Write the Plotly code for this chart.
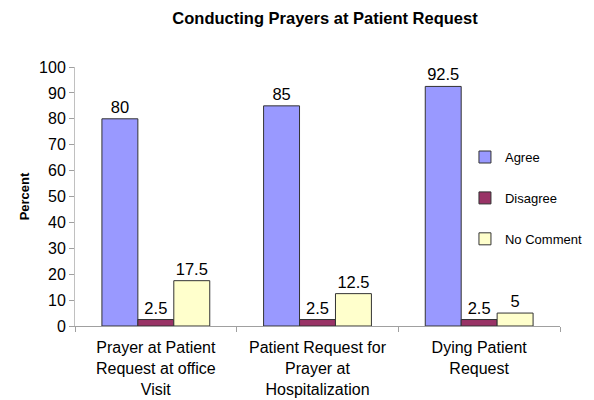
import plotly.graph_objects as go

categories = ["Prayer at Patient<br>Request at office<br>Visit",
              "Patient Request for<br>Prayer at<br>Hospitalization",
              "Dying Patient<br>Request"]
series_names = ["Agree", "Disagree", "No Comment"]
agree = [80, 85, 92.5]
disagree = [2.5, 2.5, 2.5]
no_comment = [17.5, 12.5, 5]
colors = ["#9999FF", "#993366", "#FFFFCC"]
y_ticks = list(range(0, 101, 10))

FONT = "Arial, Liberation Sans, sans-serif"

fig = go.Figure()
for i, (name, vals) in enumerate(zip(series_names, [agree, disagree, no_comment])):
    fig.add_trace(go.Bar(
        x=categories, y=vals, name=name,
        marker=dict(color=colors[i], line=dict(color="#333333", width=1)),
        text=[f"{v:g}" for v in vals], textposition="outside",
        textfont=dict(family=FONT, size=16.5, color="black"),
        cliponaxis=False, legendgroup=name,
    ))

fig.update_layout(
    width=586, height=392,
    paper_bgcolor="white", plot_bgcolor="white",
    margin=dict(l=67, r=34, t=59, b=74, autoexpand=False),
    barmode="group", bargap=0.333, bargroupgap=0,
    font=dict(family=FONT, color="black"),
    title=dict(text="<b>Conducting Prayers at Patient Request</b>",
               x=0.541, xanchor="center", y=0.9745, yanchor="middle",
               font=dict(family=FONT, size=16.5, color="black")),
    showlegend=True,
    legend=dict(xref="container", yref="container", x=0.988, y=0.658,
                xanchor="right", yanchor="top",
                bgcolor="rgba(0,0,0,0)", borderwidth=0,
                font=dict(family=FONT, size=13, color="black"),
                tracegroupgap=21, traceorder="grouped", itemwidth=30),
    xaxis=dict(showline=True, linecolor="#A0A0A0", linewidth=1, automargin=False,
               ticks="outside", tickson="boundaries", ticklen=5, tickcolor="#A0A0A0",
               ticklabelstandoff=7,
               tickfont=dict(family=FONT, size=16, color="black"),
               showgrid=False, zeroline=False),
    yaxis=dict(range=[0, 100], tickvals=y_ticks, showline=True, linecolor="#C0C0C0",
               linewidth=1, automargin=False, ticks="outside", ticklen=5, tickcolor="#A0A0A0",
               tickfont=dict(family=FONT, size=16, color="black"),
               showgrid=False, zeroline=False,
               title=dict(text="<b>Percent</b>", standoff=6,
                          font=dict(family=FONT, size=13, color="black"))),
)

fig.write_html("out.html")
